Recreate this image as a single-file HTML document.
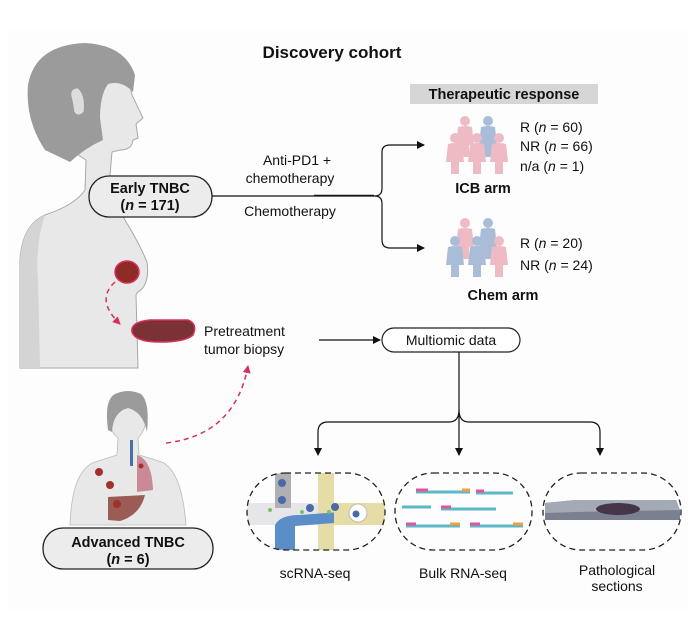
<!DOCTYPE html>
<html><head><meta charset="utf-8"><style>
html,body{margin:0;padding:0;background:#fff}
svg{display:block}
text{font-family:"Liberation Sans",Arial,sans-serif;fill:#111}
</style></head><body>
<svg width="694" height="619" viewBox="0 0 694 619" xmlns="http://www.w3.org/2000/svg">
<defs>
<marker id="ah" markerWidth="8" markerHeight="8" refX="7" refY="4" orient="auto" markerUnits="userSpaceOnUse"><path d="M0,0 L8,4 L0,8 Z" fill="#111"/></marker>
<marker id="rh" markerWidth="8" markerHeight="8" refX="7" refY="4" orient="auto" markerUnits="userSpaceOnUse"><path d="M0,0 L8,4 L0,8 Z" fill="#d8305a"/></marker>
<g id="p"><circle cx="0" cy="-14" r="5"/><path d="M-7,-8 Q0,-10 7,-8 L9,10 L4,10 L4,22 L-4,22 L-4,10 L-9,10 Z"/></g>
</defs>
<rect x="8" y="30" width="680" height="580" fill="#fdfdfd"/>
<!-- big woman -->
<path d="M20,368 L20,260 Q22,225 45,215 Q75,205 85,190 L86,160 Q70,150 60,140 L110,60 Q128,70 132,95 L143,118 L136,124 L138,138 L133,140 Q132,150 120,150 L112,152 L110,175 Q112,200 128,225 Q140,245 147,262 Q150,285 138,292 L136,295 L138,368 Z" fill="#e8e8e8" stroke="#a8a8a8" stroke-width="1"/>
<path d="M20,368 L20,260 Q22,225 45,215 Q35,245 38,280 L40,368 Z" fill="#d4d4d4"/>
<path d="M45,150 Q25,120 28,85 Q35,45 85,43 Q125,45 135,75 L133,92 Q122,80 108,84 Q100,95 100,118 L103,140 Q85,148 70,162 Z" fill="#9b9b9b"/>
<path d="M72,100 Q68,88 78,88 Q86,95 84,112 Q78,118 74,112 Z" fill="#dcdcdc" stroke="#999" stroke-width="0.8"/>
<ellipse cx="127" cy="272" rx="12" ry="11" fill="#8e2b26" stroke="#d8305a" stroke-width="1.5"/>
<path d="M132,332 Q130,322 150,320 L188,320 Q198,324 193,335 Q185,342 160,342 Q135,342 132,332 Z" fill="#7a3236" stroke="#d8305a" stroke-width="1.5"/>
<path d="M115,282 Q95,300 120,324" fill="none" stroke="#d8305a" stroke-width="1.5" stroke-dasharray="5,4" marker-end="url(#rh)"/>
<!-- small woman -->
<path d="M70,525 Q72,470 95,462 L117,455 L118,438 Q106,428 108,405 Q113,393 128,392 Q146,395 147,415 Q146,430 138,438 L139,455 L162,462 Q182,472 186,525 Z" fill="#e8e8e8" stroke="#bbb" stroke-width="0.8"/>
<path d="M108,430 Q104,400 115,394 Q128,388 141,394 Q150,402 147,432 Q143,412 128,408 Q113,412 112,432 Z" fill="#9b9b9b"/>
<rect x="130" y="440" width="3" height="26" fill="#4a6fa5"/>
<path d="M137,455 Q152,460 153,490 L137,492 Z" fill="#c98a96"/>
<path d="M108,497 L145,495 Q140,515 120,521 L108,520 Z" fill="#9b5c55"/>
<circle cx="99" cy="472" r="4" fill="#a0312c"/><circle cx="110" cy="485" r="4" fill="#a0312c"/><circle cx="117" cy="504" r="4" fill="#a0312c"/><circle cx="141" cy="466" r="2.5" fill="#a0312c"/>
<path d="M166,443 Q235,435 248,366" fill="none" stroke="#d8305a" stroke-width="1.5" stroke-dasharray="5,4" marker-end="url(#rh)"/>
<!-- titles -->
<text x="332" y="58" font-size="17" font-weight="bold" text-anchor="middle">Discovery cohort</text>
<rect x="410" y="84" width="188" height="20" fill="#d6d6d6"/>
<text x="504" y="99" font-size="14.5" font-weight="bold" text-anchor="middle">Therapeutic response</text>
<!-- early pill -->
<rect x="89" y="176" width="123" height="41" rx="20" fill="#ececec" stroke="#222" stroke-width="1.3"/>
<text x="150" y="193" font-size="14.5" font-weight="bold" text-anchor="middle">Early TNBC</text>
<text x="150" y="210" font-size="14.5" font-weight="bold" text-anchor="middle">(<tspan font-style="italic">n</tspan> = 171)</text>
<path d="M212,196 L375,196" stroke="#111" stroke-width="1.2"/>
<path d="M314,195.5 L374,195.5" stroke="#111" stroke-width="1.6"/>
<path d="M375,196 Q382,196 382,188 L382,152 Q382,145 390,145 L424,145" fill="none" stroke="#111" stroke-width="1.2" marker-end="url(#ah)"/>
<path d="M375,196 Q382,196 382,204 L382,240 Q382,248 390,248 L424,248" fill="none" stroke="#111" stroke-width="1.2" marker-end="url(#ah)"/>
<text x="297" y="165" font-size="14" text-anchor="middle">Anti-PD1 +</text>
<text x="290" y="183" font-size="14" text-anchor="middle">chemotherapy</text>
<text x="290" y="216" font-size="14" text-anchor="middle">Chemotherapy</text>
<!-- people -->
<g opacity="0.75">
<use href="#p" x="465" y="135" fill="#e9a6b2"/><use href="#p" x="488" y="135" fill="#8fa8cc"/>
<use href="#p" x="455" y="152" fill="#e9a6b2"/><use href="#p" x="477" y="152" fill="#e9a6b2"/><use href="#p" x="499" y="152" fill="#e9a6b2"/>
<use href="#p" x="465" y="237" fill="#e9a6b2"/><use href="#p" x="488" y="237" fill="#8fa8cc"/>
<use href="#p" x="455" y="255" fill="#8fa8cc"/><use href="#p" x="477" y="255" fill="#8fa8cc"/><use href="#p" x="499" y="255" fill="#e9a6b2"/>
</g>
<text x="520" y="132" font-size="14">R (<tspan font-style="italic">n</tspan> = 60)</text>
<text x="520" y="151" font-size="14">NR (<tspan font-style="italic">n</tspan> = 66)</text>
<text x="520" y="171" font-size="14">n/a (<tspan font-style="italic">n</tspan> = 1)</text>
<text x="483" y="193" font-size="14.5" font-weight="bold" text-anchor="middle">ICB arm</text>
<text x="520" y="248" font-size="14">R (<tspan font-style="italic">n</tspan> = 20)</text>
<text x="520" y="270" font-size="14">NR (<tspan font-style="italic">n</tspan> = 24)</text>
<text x="503" y="300" font-size="14.5" font-weight="bold" text-anchor="middle">Chem arm</text>
<!-- biopsy -->
<text x="204" y="336" font-size="14">Pretreatment</text>
<text x="204" y="354" font-size="14">tumor biopsy</text>
<path d="M319,340 L380,340" stroke="#111" stroke-width="1.2" marker-end="url(#ah)"/>
<rect x="382" y="328" width="138" height="24" rx="12" fill="#fff" stroke="#222" stroke-width="1.2"/>
<text x="451" y="345" font-size="14" text-anchor="middle">Multiomic data</text>
<path d="M459,352 L459,410 Q459,422 449,422 L328,422 Q318,422 318,432 L318,455" fill="none" stroke="#111" stroke-width="1.2" marker-end="url(#ah)"/>
<path d="M459,410 Q459,422 469,422 L590,422 Q600,422 600,432 L600,455" fill="none" stroke="#111" stroke-width="1.2" marker-end="url(#ah)"/>
<path d="M459,415 L459,455" stroke="#111" stroke-width="1.2" marker-end="url(#ah)"/>
<!-- scRNA -->
<clipPath id="c1"><rect x="247" y="473" width="138" height="77" rx="38"/></clipPath>
<g clip-path="url(#c1)">
<rect x="240" y="503" width="150" height="22" fill="#e6e6ea"/>
<rect x="275" y="473" width="16" height="35" fill="#b0b0b4"/>
<rect x="318" y="473" width="16" height="80" fill="#e5dca6"/>
<path d="M275,550 L275,525 Q280,515 300,515 L340,512 L335,523 L295,526 L295,550 Z" fill="#5b8ec6"/>
<rect x="334" y="503" width="55" height="22" fill="#e5dca6"/>
<circle cx="282" cy="483" r="4" fill="#4a6aa5"/><circle cx="282" cy="500" r="4" fill="#4a6aa5"/><circle cx="310" cy="508" r="4" fill="#4a6aa5"/><circle cx="335" cy="507" r="4" fill="#4a6aa5"/>
<circle cx="358" cy="513" r="9" fill="#fff" stroke="#bbb"/><circle cx="356" cy="514" r="3.5" fill="#4a6aa5"/>
<circle cx="270" cy="510" r="2" fill="#7bbf6a"/><circle cx="302" cy="512" r="2" fill="#7bbf6a"/><circle cx="329" cy="512" r="2" fill="#7bbf6a"/>
</g>
<rect x="247" y="473" width="138" height="77" rx="38" fill="none" stroke="#222" stroke-width="1.3" stroke-dasharray="6,4"/>
<!-- bulk -->
<g stroke-width="3">
<path d="M416,492 L470,492" stroke="#5ab8c8"/><path d="M416,490 L428,490" stroke="#e0559a"/><path d="M462,490 L470,490" stroke="#f0a040"/>
<path d="M476,493 L513,493" stroke="#5ab8c8"/><path d="M476,491 L484,491" stroke="#e0559a"/>
<path d="M402,507 L431,507" stroke="#5ab8c8"/>
<path d="M441,509 L496,509" stroke="#5ab8c8"/><path d="M441,507 L451,507" stroke="#e0559a"/>
<path d="M406,526 L460,526" stroke="#5ab8c8"/><path d="M406,524 L416,524" stroke="#e0559a"/><path d="M450,524 L460,524" stroke="#f0a040"/>
<path d="M470,526 L523,526" stroke="#5ab8c8"/><path d="M470,524 L480,524" stroke="#e0559a"/><path d="M513,524 L523,524" stroke="#f0a040"/>
</g>
<rect x="395" y="473" width="137" height="77" rx="38" fill="none" stroke="#222" stroke-width="1.3" stroke-dasharray="6,4"/>
<!-- path -->
<path d="M545,503 L575,500 L676,500 L680,510 L680,520 L545,520 Z" fill="#7b8090"/>
<path d="M545,503 L575,500 L676,500 L680,510 L575,512 L545,513 Z" fill="#a4a9b6"/>
<ellipse cx="618" cy="509" rx="22" ry="6" fill="#45354a"/>
<rect x="543" y="473" width="138" height="77" rx="38" fill="none" stroke="#222" stroke-width="1.3" stroke-dasharray="6,4"/>
<text x="315" y="578" font-size="14" text-anchor="middle">scRNA-seq</text>
<text x="463" y="578" font-size="14" text-anchor="middle">Bulk RNA-seq</text>
<text x="617" y="575" font-size="14" text-anchor="middle">Pathological</text>
<text x="617" y="591" font-size="14" text-anchor="middle">sections</text>
<!-- advanced pill -->
<rect x="43" y="528" width="170" height="41" rx="20" fill="#ececec" stroke="#222" stroke-width="1.3"/>
<text x="128" y="547" font-size="14.5" font-weight="bold" text-anchor="middle">Advanced TNBC</text>
<text x="128" y="564" font-size="14.5" font-weight="bold" text-anchor="middle">(<tspan font-style="italic">n</tspan> = 6)</text>
</svg>
</body></html>
